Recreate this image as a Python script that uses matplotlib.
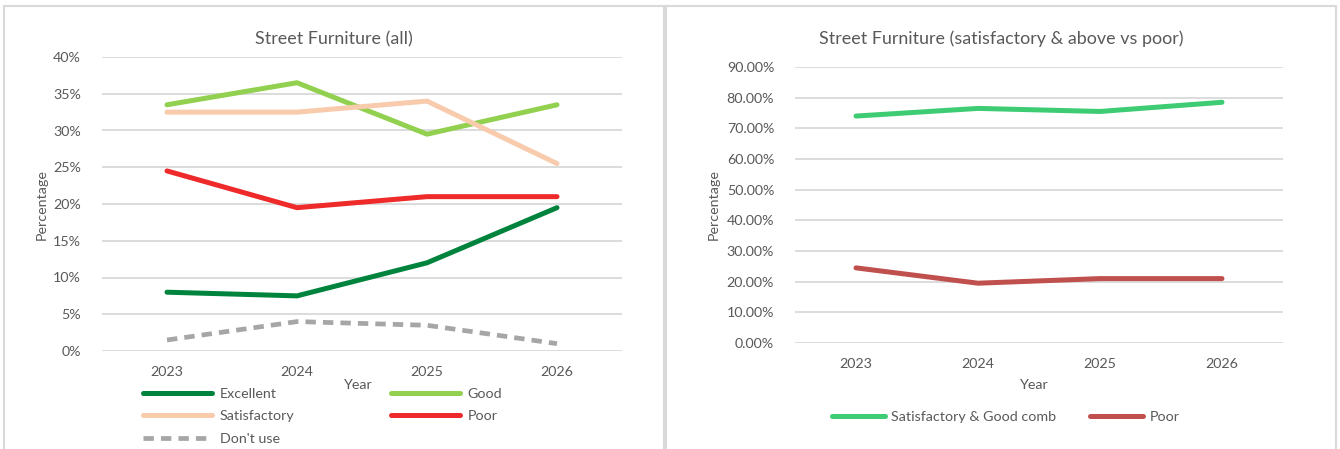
import matplotlib
matplotlib.use("Agg")
import matplotlib.pyplot as plt
from matplotlib.patches import Rectangle
from matplotlib.ticker import PercentFormatter

plt.rcParams['font.family'] = ['Lato', 'DejaVu Sans']

years = ['2023', '2024', '2025', '2026']

# left chart (all categories), percent
excellent = [8.0, 7.5, 12.0, 19.5]
good = [33.5, 36.5, 29.5, 33.5]
satisfactory = [32.5, 32.5, 34.0, 25.5]
poor = [24.5, 19.5, 21.0, 21.0]
dont_use = [1.5, 4.0, 3.5, 1.0]

# right chart (satisfactory & above vs poor), percent
sat_good_comb = [74.0, 76.5, 75.5, 78.5]
poor_comb = [24.5, 19.5, 21.0, 21.0]

TXT = '#595959'
GRID = '#D9D9D9'
W, H = 1340, 449

fig = plt.figure(figsize=(W / 100, H / 100), dpi=100)
fig.patch.set_facecolor('white')

# panel borders
fig.patches.append(Rectangle((4 / W, -0.02), 660 / W, (443 / H) + 0.02, transform=fig.transFigure,
                             fill=False, edgecolor=GRID, lw=1.5))
fig.patches.append(Rectangle((666 / W, -0.02), 670 / W, (443 / H) + 0.02, transform=fig.transFigure,
                             fill=False, edgecolor=GRID, lw=1.5))


def style_axes(ax, ymax, step, decimals):
    x = range(len(years))
    ax.set_xlim(-0.5, len(years) - 0.5)
    ax.set_ylim(0, ymax)
    ax.set_yticks([i * step for i in range(int(round(ymax / step)) + 1)])
    ax.yaxis.set_major_formatter(PercentFormatter(decimals=decimals))
    ax.set_xticks(list(x))
    ax.set_xticklabels(years)
    ax.grid(axis='y', color=GRID, lw=1.3)
    ax.set_axisbelow(True)
    for s in ax.spines.values():
        s.set_visible(False)
    ax.tick_params(length=0, colors=TXT, labelsize=10.3)
    ax.tick_params(axis='y', pad=15)
    ax.tick_params(axis='x', pad=11)


# ---- left chart ----
ax1 = fig.add_axes([102 / W, 98 / H, 520 / W, 294 / H])
style_axes(ax1, 40, 5, 0)
x = list(range(len(years)))
kw = dict(lw=3.6, solid_capstyle='round', dash_capstyle='round')
l_exc, = ax1.plot(x, excellent, color='#00843D', label='Excellent', **kw)
l_good, = ax1.plot(x, good, color='#92D050', label='Good', **kw)
l_sat, = ax1.plot(x, satisfactory, color='#F8CBAD', label='Satisfactory', **kw)
l_poor, = ax1.plot(x, poor, color='#EE2A2A', label='Poor', **kw)
l_dont, = ax1.plot(x, dont_use, color='#A6A6A6', label="Don't use", ls=(0, (2.2, 1.5)),
                   lw=3.4, dash_capstyle='butt')
ax1.set_zorder(2)
l_exc.set_zorder(5)
l_poor.set_zorder(4)

fig.text(334 / W, 1 - 39 / H, 'Street Furniture (all)', ha='center', va='center', color=TXT, fontsize=12.9)
fig.text(42 / W, 1 - 205 / H, 'Percentage', ha='center', va='center', rotation=90, color=TXT, fontsize=10.3)
fig.text(358 / W, 1 - 385 / H, 'Year', ha='center', va='center', color=TXT, fontsize=10.3)

leg1 = fig.legend([l_exc, l_sat, l_dont, l_good, l_poor],
                  ['Excellent', 'Satisfactory', "Don't use", 'Good', 'Poor'],
                  ncol=2, loc='upper left', bbox_to_anchor=(143 / W, 1 - 388 / H),
                  frameon=False, fontsize=10.3, handlelength=4.8, handletextpad=0.55,
                  columnspacing=6.75, labelspacing=0.72, borderpad=0, borderaxespad=0)
for t in leg1.get_texts():
    t.set_color(TXT)

# ---- right chart ----
ax2 = fig.add_axes([795 / W, 106 / H, 488 / W, 276 / H])
style_axes(ax2, 90, 10, 2)
r_comb, = ax2.plot(x, sat_good_comb, color='#3DCC73', label='Satisfactory & Good comb', **kw)
r_poor, = ax2.plot(x, poor_comb, color='#C0504D', label='Poor', **kw)

fig.text(1001 / W, 1 - 39 / H, 'Street Furniture (satisfactory & above vs poor)', ha='center', va='center',
         color=TXT, fontsize=12.9)
fig.text(714 / W, 1 - 205 / H, 'Percentage', ha='center', va='center', rotation=90, color=TXT, fontsize=10.3)
fig.text(1034 / W, 1 - 385 / H, 'Year', ha='center', va='center', color=TXT, fontsize=10.3)

leg2 = fig.legend([r_comb, r_poor], ['Satisfactory & Good comb', 'Poor'],
                  ncol=2, loc='upper left', bbox_to_anchor=(832 / W, 1 - 411 / H),
                  frameon=False, fontsize=10.3, handlelength=3.7, handletextpad=0.45,
                  columnspacing=2.35, borderpad=0, borderaxespad=0)
for t in leg2.get_texts():
    t.set_color(TXT)

fig.savefig('out.png', dpi=100)
